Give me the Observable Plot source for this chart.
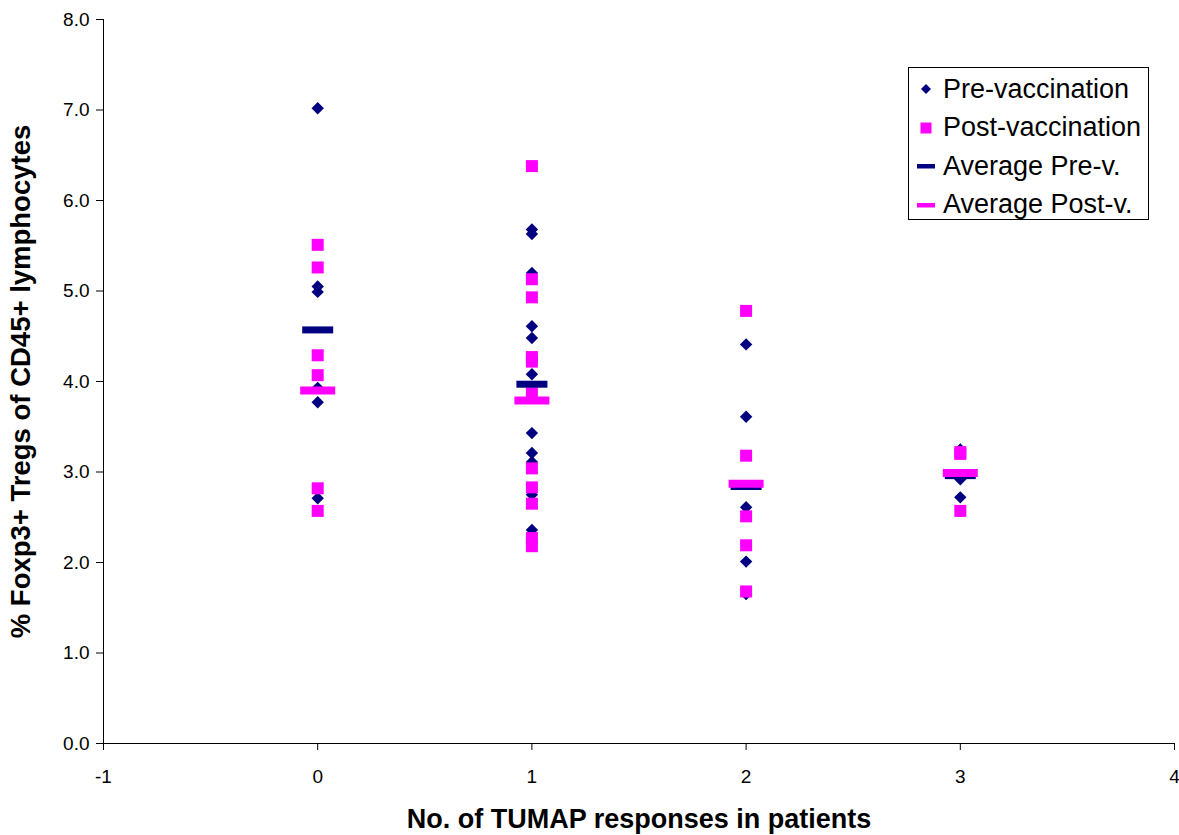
<!DOCTYPE html>
<html>
<head>
<meta charset="utf-8">
<script src="https://cdn.jsdelivr.net/npm/d3@7"></script>
<script src="https://cdn.jsdelivr.net/npm/@observablehq/plot@0.6"></script>
<style>
  body { margin: 0; background: #fff; font-family: "Liberation Sans", Arial, sans-serif; }
  #wrap { position: relative; width: 1179px; height: 835px; }
  .legend { position: absolute; left: 908px; top: 67px; width: 239px; height: 151px;
            border: 1px solid #000; background: #fff; font-size: 27px; color: #000; }
  .legend .row { position: absolute; left: 0; height: 38px; display: flex; align-items: center; }
  .legend .key { width: 34px; display: flex; justify-content: center; align-items: center; }
  .legend .lbl { white-space: nowrap; }
</style>
</head>
<body>
<div id="wrap"></div>
<script>
// Number of TUMAP responses per patient group
const responses = [0, 1, 2, 3];

// % Foxp3+ Tregs of CD45+ lymphocytes, one list per response group
const preVaccination = [
  [7.02, 5.05, 4.99, 3.93, 3.77, 2.71],
  [5.68, 5.63, 5.20, 4.61, 4.48, 4.08, 3.43, 3.21, 3.11, 2.75, 2.36],
  [4.41, 3.61, 2.61, 2.01, 1.65],
  [3.25, 2.92, 2.72]
];
const postVaccination = [
  [5.51, 5.26, 4.29, 4.07, 2.82, 2.57],
  [6.38, 5.13, 4.93, 4.27, 4.22, 3.87, 3.04, 2.83, 2.65, 2.27, 2.18],
  [4.78, 3.18, 2.51, 2.19, 1.68],
  [3.20, 3.22, 2.57]
];
const averagePre = [4.57, 3.97, 2.84, 2.96];
const averagePost = [3.90, 3.79, 2.87, 2.99];

const yTicks = [0, 1, 2, 3, 4, 5, 6, 7, 8];
const xTicks = [-1, 0, 1, 2, 3, 4];

const navy = "#000080";
const magenta = "#FF00FF";

const flatten = (groups) => groups.flatMap((vals, i) => vals.map(v => ({x: responses[i], y: v})));
const prePts = flatten(preVaccination);
const postPts = flatten(postVaccination);
const avgPrePts = responses.map((r, i) => ({x: r, y: averagePre[i]}));
const avgPostPts = responses.map((r, i) => ({x: r, y: averagePost[i]}));

// Marker shapes
const diamond = { draw(ctx) { const r = 6.2; ctx.moveTo(0, -r); ctx.lineTo(r, 0); ctx.lineTo(0, r); ctx.lineTo(-r, 0); ctx.closePath(); } };
const square = { draw(ctx) { const h = 6; ctx.rect(-h, -h, 2 * h, 2 * h); } };
const barSymbol = (w, h) => ({ draw(ctx) { ctx.rect(-w / 2, -h / 2, w, h); } });

const chart = Plot.plot({
  width: 1179,
  height: 835,
  marginLeft: 103,
  marginRight: 5,
  marginTop: 19,
  marginBottom: 92,
  style: { fontFamily: "Liberation Sans, Arial, sans-serif", color: "#000", background: "#fff" },
  x: { domain: [-1, 4] },
  y: { domain: [0, 8] },
  marks: [
    Plot.axisY({ ticks: yTicks, tickFormat: d3.format(".1f"), tickSize: 7, tickPadding: 7, fontSize: 19, label: null }),
    Plot.axisX({ ticks: xTicks, tickFormat: d => String(d), tickSize: 7, tickPadding: 19, fontSize: 19, label: null }),
    Plot.ruleY([0], { stroke: "#000" }),
    Plot.ruleX([-1], { stroke: "#000" }),
    Plot.dot(prePts, { x: "x", y: "y", symbol: diamond, fill: navy, stroke: null, r: 6 }),
    Plot.dot(postPts, { x: "x", y: "y", symbol: square, fill: magenta, stroke: null, r: 6 }),
    Plot.dot(avgPrePts, { x: "x", y: "y", symbol: barSymbol(31, 7), fill: navy, stroke: null, r: 6 }),
    Plot.dot(avgPostPts, { x: "x", y: "y", symbol: barSymbol(35, 8), fill: magenta, stroke: null, r: 6 }),
    Plot.text(["% Foxp3+ Tregs of CD45+ lymphocytes"], {
      frameAnchor: "left", textAnchor: "middle", rotate: -90, dx: -82, fontSize: 27.5, fontWeight: "bold", fill: "#000"
    }),
    Plot.text(["No. of TUMAP responses in patients"], {
      frameAnchor: "bottom", textAnchor: "middle", dy: 84, fontSize: 27, fontWeight: "bold", fill: "#000"
    })
  ]
});

const wrap = document.getElementById("wrap");
wrap.appendChild(chart);

// Legend box inside the plot area
const legendItems = [
  { label: "Pre-vaccination", svg: `<svg width="14" height="14"><path d="M7 2L12 7L7 12L2 7Z" fill="${navy}"/></svg>` },
  { label: "Post-vaccination", svg: `<svg width="14" height="14"><rect x="1.5" y="1.5" width="11" height="11" fill="${magenta}"/></svg>` },
  { label: "Average Pre-v.", svg: `<svg width="20" height="6"><rect x="1" y="1" width="18" height="4.5" fill="${navy}"/></svg>` },
  { label: "Average Post-v.", svg: `<svg width="20" height="6"><rect x="1" y="1" width="18" height="4.5" fill="${magenta}"/></svg>` }
];
const legend = document.createElement("div");
legend.className = "legend";
legendItems.forEach((item, i) => {
  const row = document.createElement("div");
  row.className = "row";
  row.style.top = (2 + i * 38.5) + "px";
  row.innerHTML = `<span class="key">${item.svg}</span><span class="lbl">${item.label}</span>`;
  legend.appendChild(row);
});
wrap.appendChild(legend);
</script>
</body>
</html>
